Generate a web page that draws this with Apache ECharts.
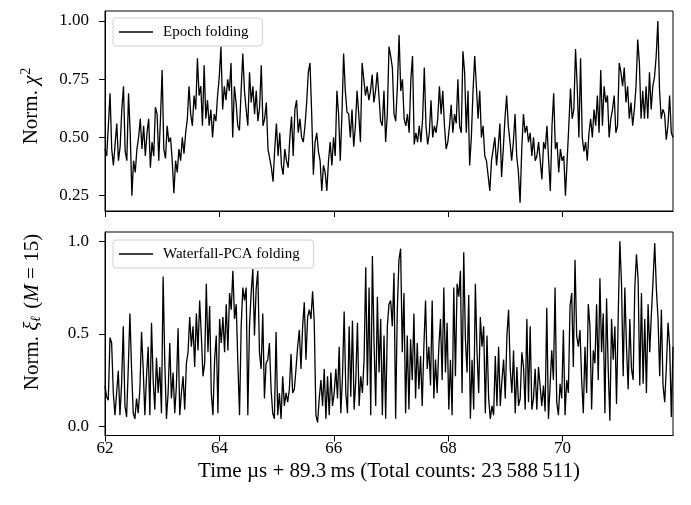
<!DOCTYPE html>
<html>
<head>
<meta charset="utf-8">
<script src="https://cdn.jsdelivr.net/npm/echarts@6/dist/echarts.min.js"></script>
<style>
html,body{margin:0;padding:0;background:#fff;}
#chart{width:691px;height:505px;}
</style>
</head>
<body>
<div id="chart"></div>
<script>
// Time axis (µs + 89.3 ms)
const T_START = 62.0;
const T_END = 71.93;
const xTicks = [62, 64, 66, 68, 70];
const yTicksTop = [0.25, 0.50, 0.75, 1.00];
const yTicksBottom = [0.0, 0.5, 1.0];
const seriesNames = ['Epoch folding', 'Waterfall-PCA folding'];

// Normalised chi^2 from epoch folding
const chi2 = [
0.45,0.42,0.55,0.69,0.45,0.38,0.47,0.56,0.40,0.46,0.62,0.72,0.44,0.40,0.69,0.52,0.25,0.40,0.35,0.45,
0.50,0.58,0.45,0.55,0.42,0.52,0.58,0.37,0.48,0.42,0.63,0.60,0.40,0.58,0.79,0.45,0.41,0.55,0.48,0.50,
0.40,0.26,0.40,0.35,0.45,0.40,0.50,0.43,0.52,0.58,0.72,0.60,0.55,0.68,0.62,0.84,0.68,0.72,0.55,0.81,
0.58,0.66,0.55,0.62,0.50,0.60,0.57,0.68,0.76,0.89,0.62,0.72,0.66,0.75,0.70,0.82,0.50,0.72,0.65,0.55,
0.53,0.70,0.86,
0.70,0.62,0.55,0.78,0.65,0.72,0.60,0.70,0.57,0.63,0.81,0.55,0.58,0.65,0.45,0.45,0.37,0.31,0.45,0.56,
0.42,0.52,0.38,0.34,0.45,0.40,0.37,0.50,0.59,0.42,0.62,0.66,0.52,0.58,0.50,0.48,0.55,0.65,0.78,0.82,
0.60,0.34,0.48,0.52,0.44,0.40,0.27,0.38,0.35,0.27,0.40,0.48,0.38,0.50,0.42,0.70,0.60,0.40,0.60,0.86,
0.70,0.61,0.60,0.50,0.62,0.46,0.55,0.70,0.60,0.48,0.82,0.75,0.68,0.72,0.66,0.70,0.77,0.65,0.70,0.78,
0.68,0.57,0.55,0.70,0.48,0.60,0.89,0.85,
0.80,0.60,0.57,0.72,0.94,0.70,0.75,0.58,0.55,0.60,0.52,0.75,0.85,0.47,0.52,0.48,0.55,0.48,0.58,0.80,
0.55,0.47,0.52,0.66,0.50,0.55,0.52,0.58,0.72,0.60,0.70,0.55,0.45,0.48,0.55,0.64,0.52,0.60,0.56,0.75,
0.55,0.52,0.87,0.78,0.52,0.70,0.38,0.50,0.70,0.85,0.72,0.58,0.70,0.50,0.55,0.42,0.40,0.40,0.27,0.40,
0.45,0.50,0.38,0.46,0.56,0.33,0.45,0.58,0.68,0.55,0.48,0.40,0.48,0.60,0.42,0.35,0.22,0.45,0.60,0.52,
0.55,0.48,0.52,0.42,0.50,0.40,
0.42,0.48,0.40,0.32,0.48,0.45,0.55,0.40,0.27,0.55,0.69,0.45,0.48,0.35,0.45,0.40,0.42,0.25,0.40,0.55,
0.71,0.58,0.62,0.88,0.72,0.50,0.84,0.50,0.44,0.48,0.40,0.52,0.58,0.50,0.62,0.55,0.68,0.52,0.79,0.55,
0.72,0.65,0.68,0.50,0.58,0.62,0.68,0.52,0.55,0.82,0.78,0.72,0.80,0.65,0.72,0.58,0.65,0.55,0.62,0.72,
0.92,0.82,0.58,0.70,0.58,0.72,0.58,0.78,0.62,0.72,0.76,0.85,1.00,0.70,0.58,0.62,0.60,0.49,0.55,0.68,
0.52,0.50
];

// Normalised xi_l (M = 15) from waterfall-PCA folding
const xi = [
0.22,0.16,0.14,0.48,0.45,0.18,0.06,0.18,0.30,0.06,0.23,0.54,0.11,0.05,0.31,0.61,0.31,0.07,0.04,0.15,
0.07,0.20,0.51,0.31,0.06,0.27,0.43,0.06,0.56,0.25,0.09,0.37,0.18,0.32,0.07,0.81,0.34,0.04,0.18,0.45,
0.15,0.29,0.07,0.22,0.53,0.06,0.18,0.27,0.09,0.34,0.40,0.59,0.43,0.54,0.32,0.61,0.41,0.68,0.49,0.27,
0.34,0.77,0.40,0.65,0.18,0.06,0.36,0.49,0.07,0.58,0.45,0.59,0.40,0.66,0.41,0.72,0.63,0.84,0.58,0.66,
0.34,0.06,0.54,0.75,
0.68,0.75,0.06,0.54,0.72,0.85,0.49,0.74,0.84,0.40,0.31,0.61,0.15,0.34,0.36,0.45,0.20,0.07,0.04,0.51,
0.06,0.18,0.04,0.27,0.11,0.18,0.13,0.20,0.39,0.18,0.20,0.31,0.43,0.52,0.31,0.54,0.67,0.36,0.59,0.63,
0.58,0.73,0.56,0.06,0.02,0.15,0.25,0.11,0.31,0.04,0.27,0.06,0.29,0.11,0.18,0.31,0.15,0.43,0.07,0.27,
0.62,0.18,0.07,0.54,0.16,0.57,0.09,0.25,0.56,0.11,0.27,0.18,0.36,0.86,0.22,0.75,0.06,0.92,0.45,0.11,
0.70,0.29,0.58,0.06,0.49,0.04,0.54,0.66,0.68,
0.54,0.83,0.04,0.63,0.90,0.96,0.40,0.72,0.07,0.49,0.09,0.47,0.25,0.61,0.15,0.45,0.20,0.38,0.11,0.43,
0.68,0.31,0.43,0.22,0.68,0.15,0.36,0.18,0.43,0.58,0.25,0.75,0.29,0.56,0.09,0.36,0.06,0.75,0.27,0.77,
0.70,0.84,0.18,0.94,0.47,0.29,0.71,0.04,0.36,0.09,0.77,0.40,0.18,0.59,0.43,0.54,0.07,0.49,0.15,0.04,
0.11,0.06,0.38,0.11,0.43,0.11,0.25,0.36,0.15,0.49,0.63,0.31,0.18,0.41,0.07,0.32,0.11,0.15,0.40,0.32,
0.09,0.58,0.13,0.54,0.09,0.15,0.31,0.09,0.32,
0.32,0.11,0.22,0.08,0.64,0.04,0.22,0.41,0.25,0.75,0.13,0.06,0.23,0.15,0.52,0.06,0.25,0.18,0.65,0.72,
0.32,0.90,0.49,0.43,0.52,0.25,0.07,0.43,0.18,0.66,0.54,0.09,0.41,0.34,0.66,0.25,0.80,0.40,0.61,0.07,
0.69,0.31,0.03,0.58,0.36,0.54,0.12,0.59,1.00,0.77,0.27,0.75,0.43,0.20,0.58,0.31,0.25,0.75,0.93,0.79,
0.22,0.72,0.23,0.58,0.18,0.66,0.40,0.61,0.79,0.99,0.74,0.58,0.27,0.63,0.22,0.13,0.32,0.56,0.43,0.05,
0.43
];

// sampling grid (uniform in time)
function timeGrid(n) {
  const out = [];
  for (let i = 0; i < n; i++) out.push(T_START + i * (T_END - T_START) / (n - 1));
  return out;
}
const tChi = timeGrid(chi2.length);
const tXi = timeGrid(xi.length);

const FONT = 'Liberation Serif';
const chart = echarts.init(document.getElementById('chart'), null, {renderer: 'canvas'});

function xAxisCfg(gridIndex, showLabels) {
  return {
    type: 'value', gridIndex: gridIndex, min: T_START, max: T_END,
    axisLine: {show: true, onZero: false, lineStyle: {color: '#000', width: 1}},
    axisTick: {show: true, inside: false, length: 6, lineStyle: {color: '#000', width: 1}, customValues: xTicks},
    axisLabel: {show: showLabels, customValues: xTicks, color: '#000', fontFamily: FONT, fontSize: 17, margin: 5,
      formatter: v => String(v)},
    splitLine: {show: false},
    name: showLabels ? 'Time \u00b5s + 89.3\u2009ms (Total counts: 23\u2009588\u2009511)' : '',
    nameLocation: 'middle', nameGap: 25,
    nameTextStyle: {color: '#000', fontFamily: FONT, fontSize: 21}
  };
}

function yAxisCfg(gridIndex, min, max, ticks, digits) {
  return {
    type: 'value', gridIndex: gridIndex, min: min, max: max,
    axisLine: {show: true, onZero: false, lineStyle: {color: '#000'}},
    axisTick: {show: true, inside: false, length: 6, customValues: ticks, lineStyle: {color: '#000'}},
    axisLabel: {customValues: ticks, color: '#000', fontFamily: FONT, fontSize: 17, margin: 16,
      formatter: v => v.toFixed(digits)},
    splitLine: {show: false}
  };
}

function legendCfg(name, top) {
  return {
    data: [name], left: 113, top: top, orient: 'vertical',
    icon: 'rect', itemWidth: 34, itemHeight: 1.3,
    padding: [6, 14, 6, 6],
    borderColor: '#d0d0d0', borderWidth: 1, borderRadius: 3, backgroundColor: 'rgba(255,255,255,0.8)',
    textStyle: {fontFamily: FONT, fontSize: 15, color: '#000', padding: [0, 0, 0, 5], lineHeight: 16}
  };
}

const titleStyle = {
  fill: '#000', font: '21px "Liberation Serif"', align: 'center', verticalAlign: 'middle',
  rich: {
    n: {fontFamily: FONT, fontSize: 21, fill: '#000'},
    i: {fontFamily: FONT, fontStyle: 'italic', fontSize: 21, fill: '#000'},
    sup: {fontFamily: FONT, fontSize: 14, fill: '#000', padding: [0, 0, 10, 1]},
    sub: {fontFamily: FONT, fontStyle: 'italic', fontSize: 14, fill: '#000', padding: [9, 2, 0, 0]}
  }
};

const option = {
  animation: false,
  backgroundColor: '#fff',
  grid: [
    {left: 105, right: 18, top: 11, height: 200, show: true, borderColor: '#000', borderWidth: 1, backgroundColor: 'transparent'},
    {left: 105, right: 18, top: 232, height: 203.5, show: true, borderColor: '#000', borderWidth: 1, backgroundColor: 'transparent'}
  ],
  legend: [legendCfg(seriesNames[0], 18), legendCfg(seriesNames[1], 240)],
  xAxis: [xAxisCfg(0, false), xAxisCfg(1, true)],
  yAxis: [
    yAxisCfg(0, 0.184, 1.043, yTicksTop, 2),
    yAxisCfg(1, -0.05, 1.05, yTicksBottom, 1)
  ],
  graphic: [
    {type: 'text', x: 31, y: 106, rotation: Math.PI / 2, silent: true,
     style: Object.assign({}, titleStyle, {text: '{n|Norm. }{i|\u03c7}{sup|2}'})},
    {type: 'text', x: 32, y: 312, rotation: Math.PI / 2, silent: true,
     style: Object.assign({}, titleStyle, {text: '{n|Norm. }{i|\u03be}{sub|\u2113}{n| (}{i|M}{n| = 15)}'})}
  ],
  series: [
    {name: seriesNames[0], type: 'line', xAxisIndex: 0, yAxisIndex: 0, symbol: 'none', showSymbol: false,
     lineStyle: {color: '#000', width: 1.3}, itemStyle: {color: '#000'},
     data: chi2.map((v, i) => [tChi[i], v])},
    {name: seriesNames[1], type: 'line', xAxisIndex: 1, yAxisIndex: 1, symbol: 'none', showSymbol: false,
     lineStyle: {color: '#000', width: 1.3}, itemStyle: {color: '#000'},
     data: xi.map((v, i) => [tXi[i], v])}
  ]
};
chart.setOption(option);
</script>
</body>
</html>
